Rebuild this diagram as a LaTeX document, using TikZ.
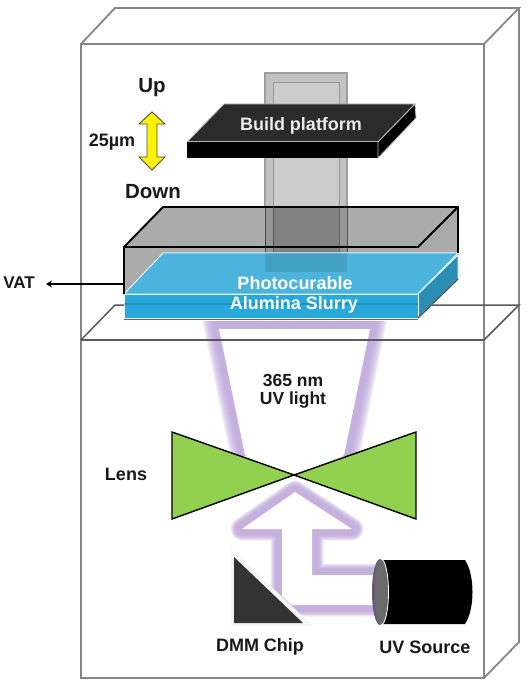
\documentclass[tikz,border=0pt]{standalone}
\usepackage{fontspec}
\setmainfont{Liberation Sans}
\usetikzlibrary{arrows.meta}
\definecolor{boxgrey}{HTML}{858585}
\definecolor{glow}{HTML}{BBA2DA}
\definecolor{vatgrey}{HTML}{ABABAB}
\definecolor{slurrytop}{HTML}{4BB3DC}
\definecolor{slurryfront}{HTML}{27A9DC}
\definecolor{slurryside}{HTML}{2C8DB4}
\definecolor{lensgreen}{HTML}{92D050}
\tikzset{
  x=1pt,y=-1pt,
  every node/.style={font=\bfseries\fontsize{18}{20}\selectfont,inner sep=0pt,text=black!90},
  boxline/.style={draw=boxgrey,line width=1.8pt,line join=miter},
  floorline/.style={draw=black!65,line width=1.5pt},
  vatline/.style={draw=black,line width=1.9pt,line join=miter},
  slurryedge/.style={draw=white!85!slurrytop,line width=1pt,line join=round},
  glowA/.style={draw=glow,line width=#1,opacity=.13,line join=round},
  glowF/.style={fill=glow,opacity=.15},
}
\begin{document}
\begin{tikzpicture}
\useasboundingbox (0,0) rectangle (528,684);
\fill[white] (0,0) rectangle (528,684);
% outer box
\draw[boxline] (81,44) rectangle (484,678);
\draw[boxline] (81,44) -- (115,8) -- (519,8) -- (484,44);
\draw[boxline] (519,8) -- (519,642) -- (484,678);
% floor (back part)
\draw[floorline] (81,340) -- (115,305) -- (519,305) -- (484,340);
% pillar
\fill[black!24,draw=black!38,line width=1.2pt] (265,73) rectangle (347,252);
\draw[black!42,line width=1pt,fill=black!20] (273,83) rectangle (339,252);
% build platform
\fill[black!83,draw=black!25,line width=.8pt] (224,104) -- (415,104) -- (378,142) -- (187,142) -- cycle;
\fill[black] (187,142) rectangle (378,158);
\fill[black,draw=black!25,line width=.8pt] (378,142) -- (415,104) -- (416,118) -- (378,158) -- cycle;
\draw[black!30,line width=1pt] (187,142) -- (378,142);
\node (platformlabel) at (301,126) {\textcolor{black!8}{Build platform}};
% double arrow
\draw[fill=yellow,draw=black!70,line width=.9pt,line join=miter]
  (152,112) -- (165,124) -- (157,124) -- (157,157) -- (165,157) -- (152,170) -- (139,157) -- (147,157) -- (147,124) -- (139,124) -- cycle;
\node (up) at (152,88) {\fontsize{20.5}{22}\selectfont Up};
\node (size) at (112,142) {25µm};
\node (down) at (153,192) {\fontsize{20.5}{22}\selectfont Down};
% vat
\fill[vatgrey] (124,247) -- (163,207) -- (458,207) -- (458,279) -- (418,318) -- (124,318) -- cycle;
\fill[black,opacity=.12] (265,207) rectangle (347,253);
\fill[black,opacity=.13] (273,207) rectangle (339,253);
\draw[black,opacity=.5,line width=1pt] (265,207) -- (265,253) (347,207) -- (347,253);
\draw[black,opacity=.3,line width=1pt] (273,207) -- (273,253) (339,207) -- (339,253);
% beam glow
\foreach \i in {0,...,10}{
  \fill[glowF] ({202+\i},321) -- ({387-\i},321) -- ({360-\i},456) -- ({230+\i},456) -- cycle;
}
\fill[white] (219,329) -- (370,329) -- (344,455) -- (294,475) -- (245,455) -- cycle;
% slurry
\fill[slurrytop,slurryedge] (163,253) -- (458,253) -- (418,294) -- (124,294) -- cycle;
\fill[slurryside,slurryedge] (418,294) -- (458,255) -- (458,279) -- (418,318) -- cycle;
\fill[slurryfront,slurryedge] (124,294) rectangle (418,318);
\fill[black,opacity=.1] (265,253) rectangle (347,272);
\draw[black,opacity=.14,line width=1.2pt] (124,304) -- (418,304);
% vat outline
\draw[vatline] (124,294) -- (124,247) -- (163,207) -- (458,207) -- (458,253);
\draw[vatline] (124,247) -- (418,247) -- (458,207);
\draw[black!70,line width=1.2pt] (458,279) -- (418,318);
\draw[black!60,line width=1pt] (124,319) -- (418,319);
\node (photo) at (295,283) {\textcolor{white}{Photocurable}};
\node (slurry) at (294,305) {\textcolor{white}{Alumina Slurry}};
% floor front line
\draw[floorline] (81,340) -- (484,340);
% VAT label
\node (vat) at (19,283) {\fontsize{17}{19}\selectfont VAT};
\coordinate (vatedge) at (123,284);
\coordinate (vattip) at (46,284);
\draw[-{Stealth[length=6pt,width=7pt]},black,line width=1.6pt] (vatedge) -- (vattip);
\node (nm) at (293,380) {\fontsize{17.5}{19}\selectfont 365 nm};
\node (uvl) at (293,400) {\fontsize{17.5}{19}\selectfont UV light};
% arrow glow
\foreach \w in {23pt,22pt,21pt,20pt,19pt,18pt,17pt,16pt,15pt,14pt,13pt,12pt}{
  \draw[glowA=\w] (295,492) -- (352,529) -- (312,529) -- (312,575) -- (382,575) -- (382,605) -- (292,605) -- (282,596) -- (282,529) -- (242,529) -- cycle;
}
\fill[white] (295,492) -- (352,529) -- (312,529) -- (312,575) -- (382,575) -- (382,605) -- (292,605) -- (282,596) -- (282,529) -- (242,529) -- cycle;
% lens
\draw[fill=lensgreen,draw=black,line width=1.4pt,line join=miter] (172,432) -- (294,475) -- (172,519) -- cycle;
\draw[fill=lensgreen,draw=black,line width=1.4pt,line join=miter] (416,432) -- (294,475) -- (416,519) -- cycle;
\node (lens) at (126,474) {Lens};
% mirror
\fill[black!4] (231,549) -- (231,626) -- (313,626) -- cycle;
\fill[black!80] (234,557) -- (234,623) -- (303,623) -- cycle;
\node (dmm) at (260,647) {DMM Chip};
% UV source
\fill[black] (383,560) -- (465,560) .. controls (475,575) and (475,609) .. (465,624) -- (383,624) -- cycle;
\fill[glow!55!black] (380,592) ellipse [x radius=8,y radius=33];
\fill[black!58] (381.5,592) ellipse [x radius=7,y radius=33];
\draw[white,line width=.8pt] (381,559) arc [start angle=-90,end angle=90,x radius=7.5,y radius=33];
\node (src) at (425,647) {UV Source};
\end{tikzpicture}
\end{document}
